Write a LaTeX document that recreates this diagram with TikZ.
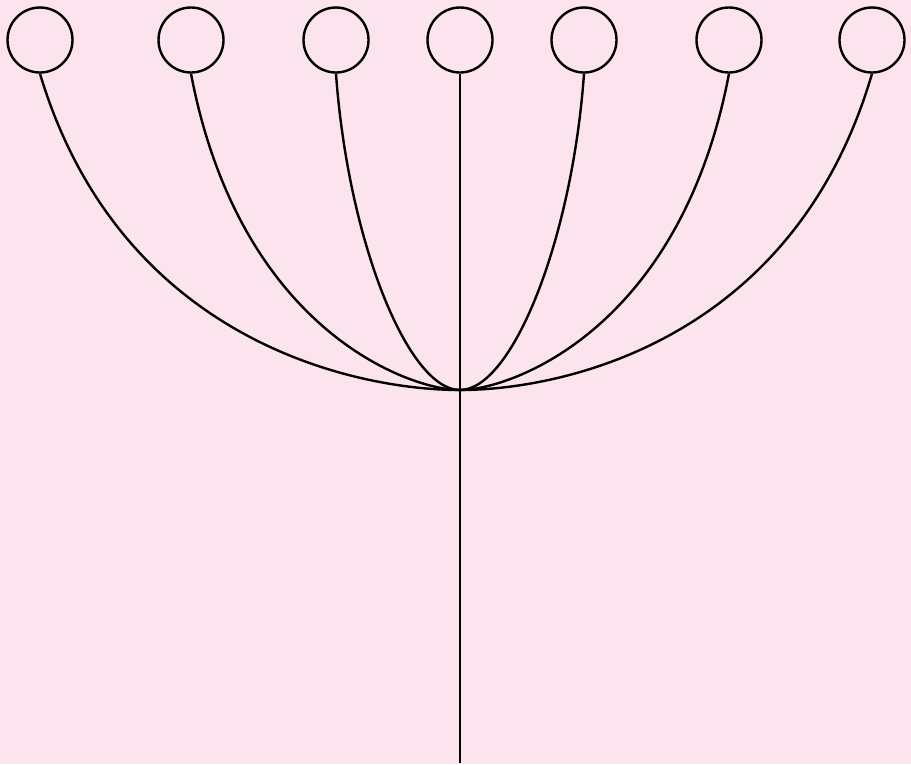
\documentclass[tikz,border=0pt]{standalone}
\definecolor{bgpink}{RGB}{251,228,238}
\begin{document}
\begin{tikzpicture}[x=1pt,y=-1pt,
  leaf/.style={circle,draw=black,line width=2.4pt,minimum size=65pt,inner sep=0pt},
  stem/.style={draw=black,line width=2.4pt}]
\fill[bgpink] (0,0) rectangle (911,764);
\useasboundingbox (0,0) rectangle (911,764);
\node[leaf] (c1) at (40,40) {};
\node[leaf] (c2) at (191,40) {};
\node[leaf] (c3) at (336,40) {};
\node[leaf] (c4) at (460,40) {};
\node[leaf] (c5) at (584,40) {};
\node[leaf] (c6) at (729,40) {};
\node[leaf] (c7) at (872,40) {};
\coordinate (j) at (460,390);
\coordinate (b) at (460,763);
\path[stem] (c1.south) .. controls +(80,267) and +(-105,0) .. (j);
\path[stem] (c2.south) .. controls +(49,257) and +(-50,0) .. (j);
\path[stem] (c3.south) .. controls +(12,167) and +(-52,0) .. (j);
\path[stem] (c5.south) .. controls +(-12,167) and +(52,0) .. (j);
\path[stem] (c6.south) .. controls +(-49,257) and +(50,0) .. (j);
\path[stem] (c7.south) .. controls +(-78,267) and +(103,0) .. (j);
\path[stem] (c4.south) -- (b);
\end{tikzpicture}
\end{document}
